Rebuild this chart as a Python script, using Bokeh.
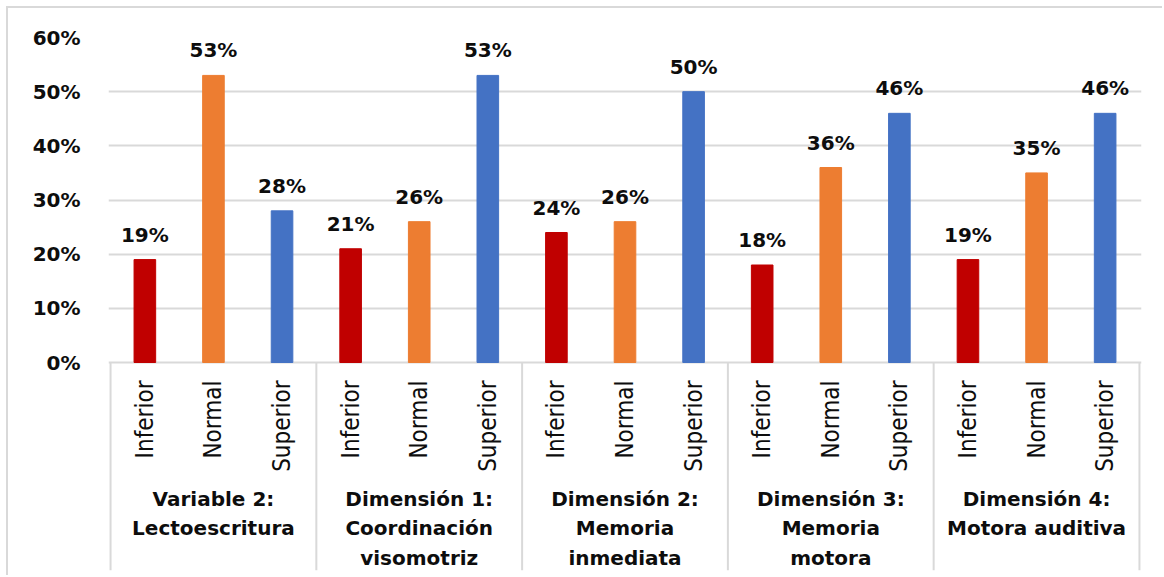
import math

from bokeh.core.properties import value
from bokeh.embed import file_html
from bokeh.models import (ColumnDataSource, FixedTicker, NumeralTickFormatter,
                          Range1d)
from bokeh.plotting import figure
from bokeh.resources import INLINE

# ---- data -----------------------------------------------------------------
groups = [
    ["Variable 2:", "Lectoescritura"],
    ["Dimensión 1:", "Coordinación", "visomotriz"],
    ["Dimensión 2:", "Memoria", "inmediata"],
    ["Dimensión 3:", "Memoria", "motora"],
    ["Dimensión 4:", "Motora auditiva"],
]
levels = ["Inferior", "Normal", "Superior"]
inferior = [0.19, 0.21, 0.24, 0.18, 0.19]
normal = [0.53, 0.26, 0.26, 0.36, 0.35]
superior = [0.28, 0.53, 0.50, 0.46, 0.46]
y_ticks = [0.0, 0.1, 0.2, 0.3, 0.4, 0.5, 0.6]

level_colors = {"Inferior": "#C00000", "Normal": "#ED7D31", "Superior": "#4472C4"}
TEXT = "#0d0d0d"
GRID = "#D9D9D9"

# ---- geometry (the chart area sits 8px in from the page's top-left) -------
OFFSET = 8
W, H = 1164 - OFFSET, 577 - OFFSET
LEFT, RIGHT, TOP, BOTTOM = 100, 23, 29, 7
AXIS_Y = 354                      # pixel row of the 0 % baseline
px_per_unit = (AXIS_Y - TOP) / y_ticks[-1]
y_start = -(H - BOTTOM - AXIS_Y) / px_per_unit

series = {"Inferior": inferior, "Normal": normal, "Superior": superior}
xs, tops, cols, cats, labels = [], [], [], [], []
for g in range(len(groups)):
    for k, lvl in enumerate(levels):
        v = series[lvl][g]
        xs.append(g * len(levels) + k + 0.5)
        tops.append(v)
        cols.append(level_colors[lvl])
        cats.append(lvl)
        labels.append(f"{round(v * 100)}%")

bars = ColumnDataSource(dict(x=xs, top=tops, color=cols, cat=cats, label=labels,
                             zero=[0.0] * len(xs)))

n = len(xs)
p = figure(width=W, height=H, output_backend="svg", toolbar_location=None,
           x_range=Range1d(-0.03, n + 0.03), y_range=Range1d(y_start, y_ticks[-1]),
           min_border_left=LEFT, min_border_right=RIGHT,
           min_border_top=TOP, min_border_bottom=BOTTOM,
           x_axis_location=None,
           styles={"margin-left": "6px", "margin-top": "6px",
                   "border-left": f"2px solid {GRID}",
                   "border-top": f"2px solid {GRID}"})
p.outline_line_color = None
p.background_fill_color = "white"
p.border_fill_color = "white"

# y axis
ax = p.yaxis[0]
ax.ticker = FixedTicker(ticks=y_ticks)
ax.formatter = NumeralTickFormatter(format="0%")
ax.axis_line_color = None
ax.major_tick_line_color = None
ax.minor_tick_line_color = None
ax.major_label_standoff = 22
ax.major_label_text_font = "DejaVu Sans"
ax.major_label_text_font_style = "bold"
ax.major_label_text_font_size = "20px"
ax.major_label_text_color = TEXT

p.xgrid.visible = False
p.ygrid.ticker = FixedTicker(ticks=y_ticks)
p.ygrid.grid_line_color = GRID
p.ygrid.grid_line_width = 2

# bars
p.vbar(x="x", top="top", bottom=0, width=0.315, color="color", source=bars)

# value labels
p.text(x="x", y="top", text="label", source=bars, y_offset=-25,
       text_align="center", text_baseline="middle",
       text_font=value("DejaVu Sans"), text_font_style="bold",
       text_font_size="20px", text_color=TEXT)

# level labels under each bar (rotated)
p.text(x="x", y="zero", text="cat", source=bars, angle=math.pi / 2,
       y_offset=18, text_align="right", text_baseline="middle",
       text_font=value("DejaVu Sans Condensed, Roboto"), text_font_size="24px",
       text_color=TEXT)

# group labels, one row per line
gx, gy, gt, goff = [], [], [], []
for g, lines in enumerate(groups):
    for i, line in enumerate(lines):
        gx.append(g * len(levels) + len(levels) / 2)
        gy.append(0.0)
        gt.append(line)
        goff.append(136 + 29.5 * i)
gsrc = ColumnDataSource(dict(x=gx, y=gy, text=gt, off=goff))
p.text(x="x", y="y", text="text", y_offset="off", source=gsrc,
       text_align="center", text_baseline="middle",
       text_font=value("DejaVu Sans"), text_font_style="bold",
       text_font_size="20px", text_color=TEXT)

# separators between groups
bx = [g * len(levels) for g in range(len(groups) + 1)]
p.segment(x0=bx, x1=bx, y0=[0.0] * len(bx), y1=[y_start] * len(bx),
          line_color=GRID, line_width=2)

open("out.html", "w").write(file_html(p, INLINE))
